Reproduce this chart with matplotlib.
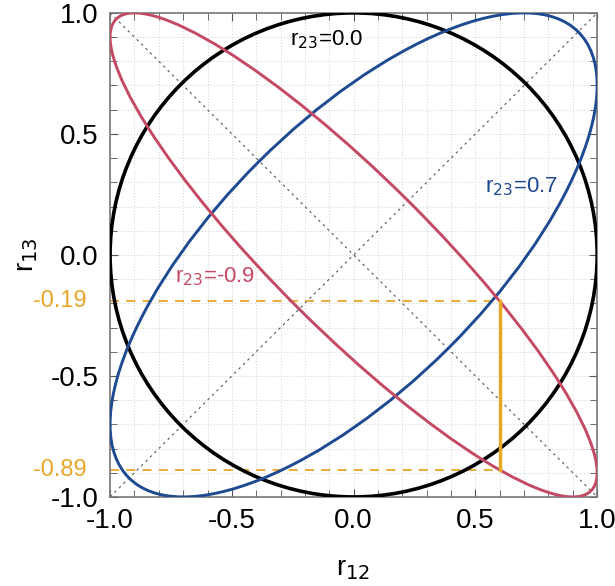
import numpy as np
import matplotlib.pyplot as plt
from matplotlib.patches import Ellipse
from matplotlib import font_manager

names = set(f.name for f in font_manager.fontManager.ttflist)
tickfont = 'Liberation Sans Narrow' if 'Liberation Sans Narrow' in names else 'Liberation Sans'
plt.rcParams['font.family'] = [tickfont, 'DejaVu Sans']

# correlation r23 for each boundary curve
r23_vals = [0.0, 0.7, -0.9]
colors = ['black', '#1d4a91', '#c44a64']
widths = [2.6, 2.1, 2.1]
label_pos = [(-0.11, 0.89), (0.69, 0.28), (-0.57, -0.09)]

# highlighted slice at r12 = 0.6 on the r23=-0.9 curve
r12_cut = 0.6
r13_lo = -0.89
r13_hi = -0.19
orange = '#e8a62a'

ticks = [-1.0, -0.5, 0.0, 0.5, 1.0]

fig = plt.figure(figsize=(6.15, 5.86), dpi=100)
ax = fig.add_axes([0.179, 0.152, 0.792, 0.826])

ax.set_xlim(-1, 1)
ax.set_ylim(-1, 1)
ax.set_xticks(ticks)
ax.set_yticks(ticks)
ax.set_xticks(np.arange(-1, 1.01, 0.1), minor=True)
ax.set_yticks(np.arange(-1, 1.01, 0.1), minor=True)
ax.set_xticklabels(['%.1f' % t for t in ticks])
ax.set_yticklabels(['%.1f' % t for t in ticks])
ax.grid(True, which='both', color='#d8d8d8', linestyle=':', linewidth=0.8)
ax.tick_params(which='both', direction='in', top=True, right=True,
               color='#555555', labelsize=20, pad=8)
ax.tick_params(which='major', length=6)
ax.tick_params(which='minor', length=5)
for s in ax.spines.values():
    s.set_color('#777777')
    s.set_linewidth(1.2)

# diagonals
ax.plot([-1, 1], [-1, 1], color='#666666', linestyle=(0, (2, 3)), linewidth=0.9)
ax.plot([-1, 1], [1, -1], color='#666666', linestyle=(0, (2, 3)), linewidth=0.9)

# boundary ellipses of the positive-definite region
for r, c, w, (lx, ly) in zip(r23_vals, colors, widths, label_pos):
    e = Ellipse((0, 0), 2 * np.sqrt(1 + r), 2 * np.sqrt(1 - r), angle=45,
                fill=False, edgecolor=c, linewidth=w, zorder=3)
    ax.add_patch(e)
    ax.text(lx, ly, r'r$_{23}$=%.1f' % r, color=c, fontsize=16,
            ha='center', va='center', zorder=4)

# slice at r12 = 0.6
ax.plot([-1, r12_cut], [r13_hi, r13_hi], color=orange, linestyle=(0, (5, 4)), linewidth=1.3)
ax.plot([-1, r12_cut], [r13_lo, r13_lo], color=orange, linestyle=(0, (5, 4)), linewidth=1.3)
ax.plot([r12_cut, r12_cut], [r13_lo, r13_hi], color=orange, linewidth=2.5, zorder=4)
for v in [r13_hi, r13_lo]:
    ax.text(-1.095, v, '%.2f' % v, color=orange, fontsize=17,
            ha='right', va='center', clip_on=False)

ax.set_xlabel(r'r$_{12}$', fontsize=20, labelpad=16)
ax.set_ylabel(r'r$_{13}$', fontsize=20, labelpad=8)

fig.savefig('out.png', dpi=100)
